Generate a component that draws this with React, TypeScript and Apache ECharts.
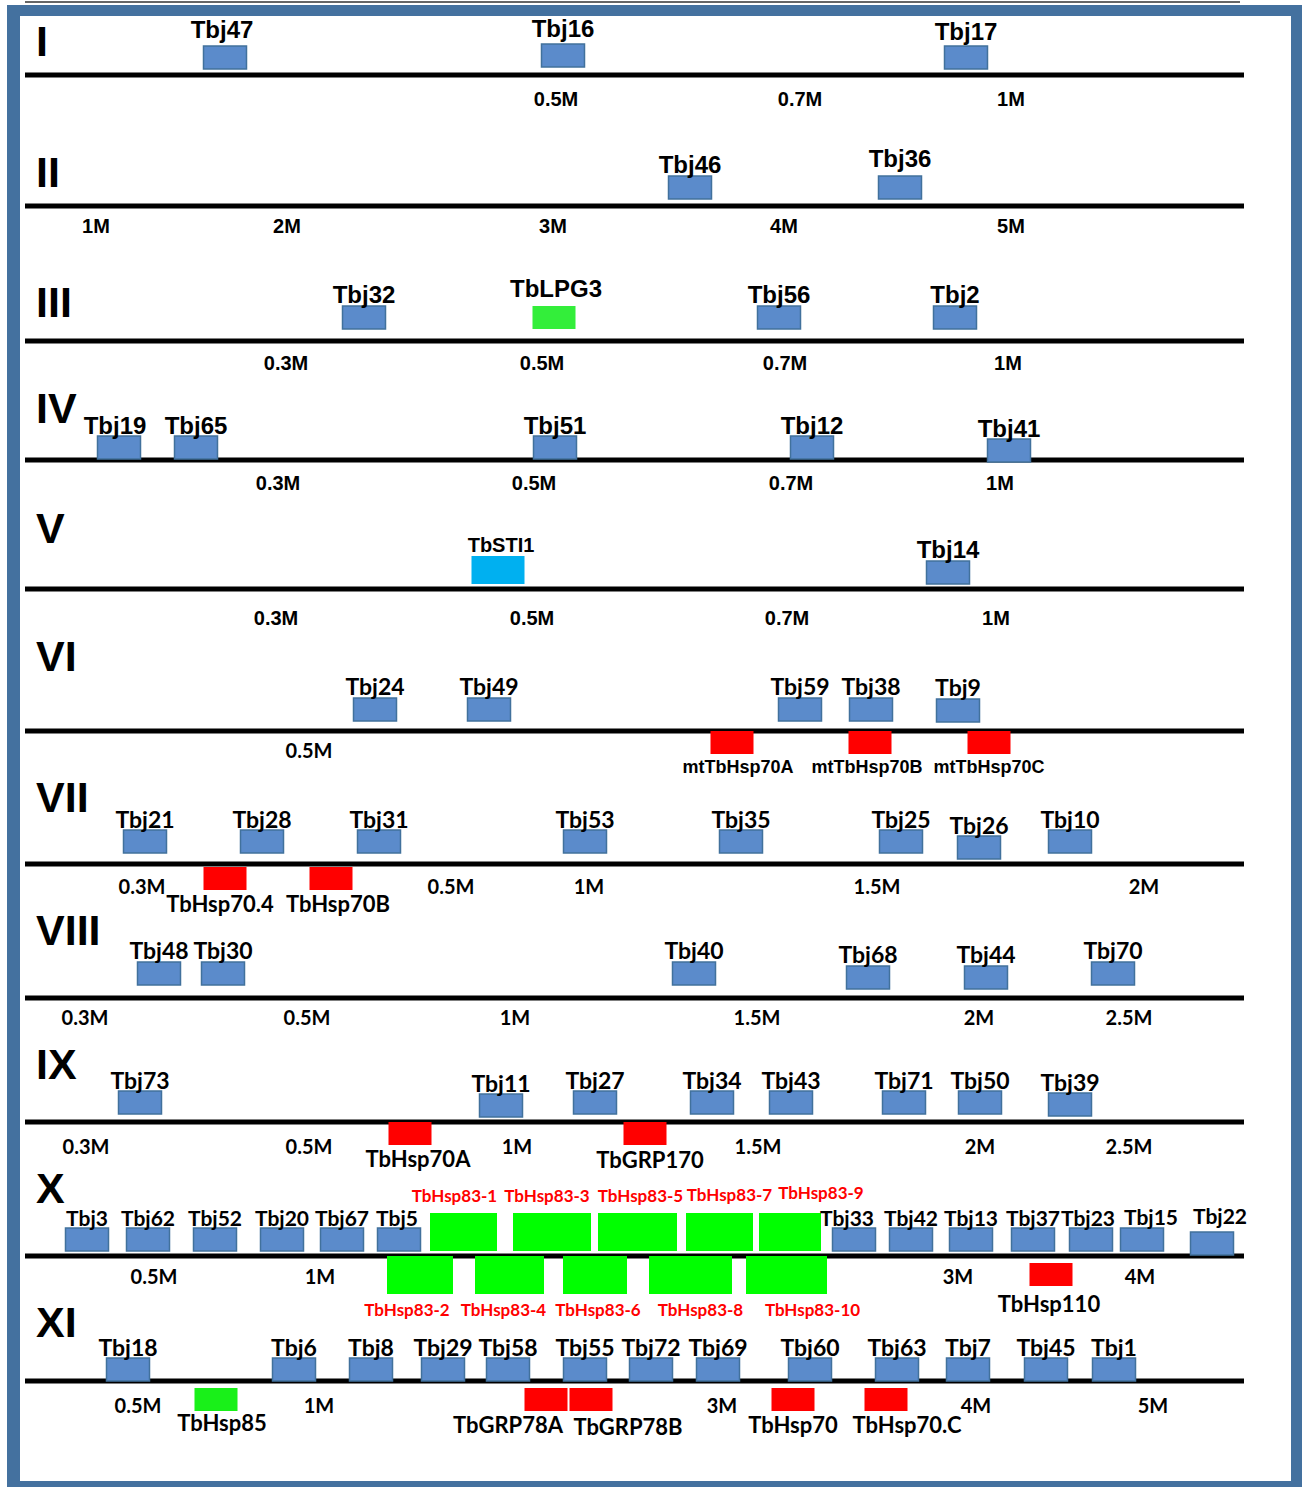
import { useEffect, useRef } from 'react';
import * as echarts from 'echarts';

type Side = 'up' | 'down';
// [gene name, position on the chromosome (centre, or [start, end] span), family, side of the chromosome]
type Gene = [string, number | [number, number], string, Side];
type Tick = [string, number];

const chromosomes = ['I', 'II', 'III', 'IV', 'V', 'VI', 'VII', 'VIII', 'IX', 'X', 'XI'];

const chrI_genes: Gene[] = [['Tbj47', 225, 'J', 'up'], ['Tbj16', 563, 'J', 'up'], ['Tbj17', 966, 'J', 'up']];
const chrII_genes: Gene[] = [['Tbj46', 690, 'J', 'up'], ['Tbj36', 900, 'J', 'up']];
const chrIII_genes: Gene[] = [
  ['Tbj32', 364, 'J', 'up'], ['TbLPG3', 554, 'LPG', 'up'], ['Tbj56', 779, 'J', 'up'], ['Tbj2', 955, 'J', 'up'],
];
const chrIV_genes: Gene[] = [
  ['Tbj19', 119, 'J', 'up'], ['Tbj65', 196, 'J', 'up'], ['Tbj51', 555, 'J', 'up'],
  ['Tbj12', 812, 'J', 'up'], ['Tbj41', 1009, 'J', 'up'],
];
const chrV_genes: Gene[] = [['TbSTI1', 498, 'STI', 'up'], ['Tbj14', 948, 'J', 'up']];
const chrVI_genes: Gene[] = [
  ['Tbj24', 375, 'J', 'up'], ['Tbj49', 489, 'J', 'up'], ['Tbj59', 800, 'J', 'up'],
  ['Tbj38', 871, 'J', 'up'], ['Tbj9', 958, 'J', 'up'],
  ['mtTbHsp70A', 732, 'HSP70', 'down'], ['mtTbHsp70B', 870, 'HSP70', 'down'], ['mtTbHsp70C', 989, 'HSP70', 'down'],
];
const chrVII_genes: Gene[] = [
  ['Tbj21', 145, 'J', 'up'], ['Tbj28', 262, 'J', 'up'], ['Tbj31', 379, 'J', 'up'], ['Tbj53', 585, 'J', 'up'],
  ['Tbj35', 741, 'J', 'up'], ['Tbj25', 901, 'J', 'up'], ['Tbj26', 979, 'J', 'up'], ['Tbj10', 1070, 'J', 'up'],
  ['TbHsp70.4', 225, 'HSP70', 'down'], ['TbHsp70B', 331, 'HSP70', 'down'],
];
const chrVIII_genes: Gene[] = [
  ['Tbj48', 159, 'J', 'up'], ['Tbj30', 223, 'J', 'up'], ['Tbj40', 694, 'J', 'up'],
  ['Tbj68', 868, 'J', 'up'], ['Tbj44', 986, 'J', 'up'], ['Tbj70', 1113, 'J', 'up'],
];
const chrIX_genes: Gene[] = [
  ['Tbj73', 140, 'J', 'up'], ['Tbj11', 501, 'J', 'up'], ['Tbj27', 595, 'J', 'up'], ['Tbj34', 712, 'J', 'up'],
  ['Tbj43', 791, 'J', 'up'], ['Tbj71', 904, 'J', 'up'], ['Tbj50', 980, 'J', 'up'], ['Tbj39', 1070, 'J', 'up'],
  ['TbHsp70A', 410, 'HSP70', 'down'], ['TbGRP170', 645, 'HSP70', 'down'],
];
const chrX_genes: Gene[] = [
  ['Tbj3', 87, 'J', 'up'], ['Tbj62', 148, 'J', 'up'], ['Tbj52', 215, 'J', 'up'], ['Tbj20', 282, 'J', 'up'],
  ['Tbj67', 342, 'J', 'up'], ['Tbj5', 399, 'J', 'up'],
  ['TbHsp83-1', [430, 497], 'HSP83', 'up'], ['TbHsp83-3', [513, 591], 'HSP83', 'up'],
  ['TbHsp83-5', [598, 677], 'HSP83', 'up'], ['TbHsp83-7', [686, 753], 'HSP83', 'up'],
  ['TbHsp83-9', [759, 821], 'HSP83', 'up'],
  ['Tbj33', 854, 'J', 'up'], ['Tbj42', 911, 'J', 'up'], ['Tbj13', 971, 'J', 'up'], ['Tbj37', 1033, 'J', 'up'],
  ['Tbj23', 1091, 'J', 'up'], ['Tbj15', 1142, 'J', 'up'], ['Tbj22', 1212, 'J', 'up'],
  ['TbHsp83-2', [387, 453], 'HSP83', 'down'], ['TbHsp83-4', [475, 544], 'HSP83', 'down'],
  ['TbHsp83-6', [563, 627], 'HSP83', 'down'], ['TbHsp83-8', [649, 732], 'HSP83', 'down'],
  ['TbHsp83-10', [746, 827], 'HSP83', 'down'],
  ['TbHsp110', 1051, 'HSP70', 'down'],
];
const chrXI_genes: Gene[] = [
  ['Tbj18', 128, 'J', 'up'], ['Tbj6', 294, 'J', 'up'], ['Tbj8', 371, 'J', 'up'], ['Tbj29', 443, 'J', 'up'],
  ['Tbj58', 508, 'J', 'up'], ['Tbj55', 585, 'J', 'up'], ['Tbj72', 651, 'J', 'up'], ['Tbj69', 718, 'J', 'up'],
  ['Tbj60', 810, 'J', 'up'], ['Tbj63', 897, 'J', 'up'], ['Tbj7', 968, 'J', 'up'], ['Tbj45', 1046, 'J', 'up'],
  ['Tbj1', 1114, 'J', 'up'],
  ['TbHsp85', 216, 'HSP85', 'down'], ['TbGRP78A', 546, 'HSP70', 'down'], ['TbGRP78B', 591, 'HSP70', 'down'],
  ['TbHsp70', 793, 'HSP70', 'down'], ['TbHsp70.C', 886, 'HSP70', 'down'],
];

const chrI_ticks: Tick[] = [['0.5M', 556], ['0.7M', 800], ['1M', 1011]];
const chrII_ticks: Tick[] = [['1M', 96], ['2M', 287], ['3M', 553], ['4M', 784], ['5M', 1011]];
const chrIII_ticks: Tick[] = [['0.3M', 286], ['0.5M', 542], ['0.7M', 785], ['1M', 1008]];
const chrIV_ticks: Tick[] = [['0.3M', 278], ['0.5M', 534], ['0.7M', 791], ['1M', 1000]];
const chrV_ticks: Tick[] = [['0.3M', 276], ['0.5M', 532], ['0.7M', 787], ['1M', 996]];
const chrVI_ticks: Tick[] = [['0.5M', 309]];
const chrVII_ticks: Tick[] = [['0.3M', 142], ['0.5M', 451], ['1M', 589], ['1.5M', 877], ['2M', 1144]];
const chrVIII_ticks: Tick[] = [['0.3M', 85], ['0.5M', 307], ['1M', 515], ['1.5M', 757], ['2M', 979], ['2.5M', 1129]];
const chrIX_ticks: Tick[] = [['0.3M', 86], ['0.5M', 309], ['1M', 517], ['1.5M', 758], ['2M', 980], ['2.5M', 1129]];
const chrX_ticks: Tick[] = [['0.5M', 154], ['1M', 320], ['3M', 958], ['4M', 1140]];
const chrXI_ticks: Tick[] = [['0.5M', 138], ['1M', 319], ['3M', 722], ['4M', 976], ['5M', 1153]];

const genesByChromosome = [
  chrI_genes, chrII_genes, chrIII_genes, chrIV_genes, chrV_genes, chrVI_genes,
  chrVII_genes, chrVIII_genes, chrIX_genes, chrX_genes, chrXI_genes,
];
const ticksByChromosome = [
  chrI_ticks, chrII_ticks, chrIII_ticks, chrIV_ticks, chrV_ticks, chrVI_ticks,
  chrVII_ticks, chrVIII_ticks, chrIX_ticks, chrX_ticks, chrXI_ticks,
];

// ---------------- layout (page pixels, used as axis units) ----------------
const W = 1304;
const H = 1487;
const LINE_X0 = 25;
const LINE_X1 = 1244;
const LINE_Y = [75, 206, 341, 460, 589, 731, 864, 998, 1122, 1256, 1381];
const UP_GAP = [6, 7, 12, 1, 5, 10, 11, 13, 8, 5, 0];
const DOWN_GAP = [0, 0, 0, 0, 0, 0, 3, 0, 0, 7, 7];
const LABEL_UP = [15, 14, 12, 11, 12, 12, 11, 12, 11, 11, 11];
const TICK_DY = [24, 20, 22, 23, 29, 19, 22, 19, 24, 20, 24];
const ROMAN_DY = [-34, -34, -39, -52, -61, -75, -67, -68, -58, -68, -59];
const ROMAN_X = 36;

const labelNudge: Record<string, [number, number]> = {
  Tbj47: [-3, -2], Tbj16: [0, -1], Tbj36: [0, -4], Tbj46: [0, 2], TbLPG3: [2, -5],
  Tbj19: [-4, 0], TbSTI1: [3, 1],
  'TbHsp70.4': [-5, 0], TbHsp70B: [7, 0], TbHsp70A: [8, 0], TbGRP170: [5, 1],
  TbGRP78A: [-38, 0], TbGRP78B: [37, 2], 'TbHsp70.C': [21, 0], TbHsp85: [6, -2],
  TbHsp110: [-2, 4], mtTbHsp70A: [6, 0], mtTbHsp70B: [-3, 0],
  'TbHsp83-1': [-9, 0], 'TbHsp83-3': [-5, 0], 'TbHsp83-5': [3, 0], 'TbHsp83-7': [10, -1], 'TbHsp83-9': [31, -3],
  'TbHsp83-2': [-13, 0], 'TbHsp83-4': [-6, 0], 'TbHsp83-6': [3, 0], 'TbHsp83-8': [10, 0], 'TbHsp83-10': [26, 0],
  Tbj33: [-7, 0], Tbj23: [-3, 0], Tbj15: [9, -1], Tbj22: [8, -6], Tbj5: [-2, 0],
};
const boxNudge: Record<string, number> = {
  Tbj26: 6, Tbj11: 3, Tbj39: 2, Tbj68: 4, Tbj44: 4, Tbj16: -2, Tbj41: 3, Tbj22: 4, Tbj9: 1,
};

const FAMILY: Record<string, { fill: string; stroke?: string; w: number; h: number }> = {
  J: { fill: '#5b8bcb', stroke: '#41719c', w: 43, h: 23 },
  HSP70: { fill: '#ff0000', w: 43, h: 23 },
  HSP85: { fill: '#19f019', w: 43, h: 23 },
  HSP83: { fill: '#00ff00', w: 60, h: 38 },
  LPG: { fill: '#33ee3a', w: 43, h: 23 },
  STI: { fill: '#00b0f0', w: 53, h: 28 },
};

const ARIAL = '"Liberation Sans", Arial, sans-serif';
const CALIBRI = 'Lato, "Noto Sans", sans-serif';

function labelFont(row: number, family: string, side: Side) {
  if (family === 'HSP83') return { fontFamily: CALIBRI, fontSize: 17, fill: '#ff0000' };
  if (family === 'STI') return { fontFamily: ARIAL, fontSize: 20, fill: '#000' };
  if (row < 5) return { fontFamily: ARIAL, fontSize: 24, fill: '#000' };
  if (row === 5 && side === 'down') return { fontFamily: ARIAL, fontSize: 18, fill: '#000' };
  if (row === 9) return { fontFamily: CALIBRI, fontSize: side === 'down' ? 22 : 21, fill: '#000' };
  return { fontFamily: CALIBRI, fontSize: side === 'down' ? 22 : 23, fill: '#000' };
}

type FlatGene = { name: string; pos: number | [number, number]; family: string; side: Side; row: number };
const flatGenes: FlatGene[] = [];
genesByChromosome.forEach((list, row) =>
  list.forEach(([name, pos, family, side]) => flatGenes.push({ name, pos, family, side, row }))
);
type FlatTick = { label: string; pos: number; row: number };
const flatTicks: FlatTick[] = [];
ticksByChromosome.forEach((list, row) => list.forEach(([label, pos]) => flatTicks.push({ label, pos, row })));

export default function App() {
  const ref = useRef<HTMLDivElement>(null);
  useEffect(() => {
    if (!ref.current) return;
    const chart = echarts.init(ref.current, undefined, { renderer: 'svg' });

    const lineSeries = {
      type: 'custom',
      clip: false,
      silent: true,
      z: 1,
      data: chromosomes.map((_, i) => [LINE_X0, LINE_Y[i]]),
      encode: { x: 0, y: 1 },
      renderItem: (params: any, api: any) => {
        const i = params.dataIndex;
        const a = api.coord([LINE_X0, LINE_Y[i]]);
        const b = api.coord([LINE_X1, LINE_Y[i]]);
        const r = api.coord([ROMAN_X, LINE_Y[i] + ROMAN_DY[i]]);
        return {
          type: 'group',
          children: [
            { type: 'line', shape: { x1: a[0], y1: a[1], x2: b[0], y2: b[1] }, style: { stroke: '#000', lineWidth: 5 } },
            {
              type: 'text', x: r[0], y: r[1],
              style: {
                text: chromosomes[i], fill: '#000', fontSize: 43, fontWeight: 'bold', fontFamily: ARIAL,
                align: 'left', verticalAlign: 'middle',
              },
            },
          ],
        };
      },
    };

    const geneSeries = {
      type: 'custom',
      clip: false,
      silent: true,
      z: 3,
      data: flatGenes.map((g) => [Array.isArray(g.pos) ? (g.pos[0] + g.pos[1]) / 2 : g.pos, LINE_Y[g.row]]),
      encode: { x: 0, y: 1 },
      renderItem: (params: any, api: any) => {
        const g = flatGenes[params.dataIndex];
        const st = FAMILY[g.family];
        let x0: number;
        let x1: number;
        if (Array.isArray(g.pos)) {
          x0 = api.coord([g.pos[0], 0])[0];
          x1 = api.coord([g.pos[1], 0])[0];
        } else {
          const c = api.coord([g.pos, 0])[0];
          x0 = c - st.w / 2;
          x1 = c + st.w / 2;
        }
        const ly = api.coord([0, LINE_Y[g.row]])[1];
        const nudge = boxNudge[g.name] || 0;
        let top: number;
        if (g.side === 'up') {
          const gap = g.family === 'HSP83' ? 5 : UP_GAP[g.row];
          top = ly - gap - st.h + nudge;
        } else {
          const gap = g.family === 'HSP83' ? 0 : DOWN_GAP[g.row];
          top = ly + gap + nudge;
        }
        const f = labelFont(g.row, g.family, g.side);
        const [ldx, ldy] = labelNudge[g.name] || [0, 0];
        let ty: number;
        if (g.side === 'up') {
          ty = top - (g.family === 'HSP83' ? 18 : g.family === 'LPG' ? 13 : LABEL_UP[g.row]);
        } else {
          ty = top + st.h + (g.family === 'HSP83' ? 15 : 13);
        }
        return {
          type: 'group',
          children: [
            {
              type: 'rect',
              shape: { x: x0, y: top, width: x1 - x0, height: st.h },
              style: { fill: st.fill, stroke: st.stroke || null, lineWidth: st.stroke ? 1.5 : 0 },
            },
            {
              type: 'text', x: (x0 + x1) / 2 + ldx, y: ty + ldy,
              style: {
                text: g.name, fill: f.fill, fontSize: f.fontSize, fontWeight: 'bold', fontFamily: f.fontFamily,
                align: 'center', verticalAlign: 'middle',
              },
            },
          ],
        };
      },
    };

    const tickSeries = {
      type: 'custom',
      clip: false,
      silent: true,
      z: 2,
      data: flatTicks.map((t) => [t.pos, LINE_Y[t.row]]),
      encode: { x: 0, y: 1 },
      renderItem: (params: any, api: any) => {
        const t = flatTicks[params.dataIndex];
        const p = api.coord([t.pos, LINE_Y[t.row] + TICK_DY[t.row]]);
        return {
          type: 'text', x: p[0], y: p[1],
          style: {
            text: t.label, fill: '#000', fontSize: 20, fontWeight: 'bold',
            fontFamily: t.row < 5 ? ARIAL : CALIBRI, align: 'center', verticalAlign: 'middle',
          },
        };
      },
    };

    const frame = '#44719f';
    chart.setOption({
      animation: false,
      backgroundColor: '#ffffff',
      grid: { left: 0, right: 0, top: 0, bottom: 0, containLabel: false },
      xAxis: { type: 'value', min: 0, max: W, show: false },
      yAxis: { type: 'value', min: 0, max: H, inverse: true, show: false },
      graphic: [
        { type: 'line', shape: { x1: 25, y1: 2, x2: 1240, y2: 2 }, style: { stroke: '#666', lineWidth: 2 } },
        { type: 'rect', shape: { x: 7, y: 5, width: 13, height: 1482 }, style: { fill: frame } },
        { type: 'rect', shape: { x: 7, y: 5, width: 1295, height: 11 }, style: { fill: frame } },
        { type: 'rect', shape: { x: 1291, y: 5, width: 11, height: 1482 }, style: { fill: frame } },
        { type: 'rect', shape: { x: 7, y: 1481, width: 1295, height: 6 }, style: { fill: frame } },
      ],
      series: [lineSeries, tickSeries, geneSeries],
    } as any);
    return () => chart.dispose();
  }, []);
  return <div ref={ref} style={{ position: 'absolute', left: 0, top: 0, width: W, height: H }} />;
}
